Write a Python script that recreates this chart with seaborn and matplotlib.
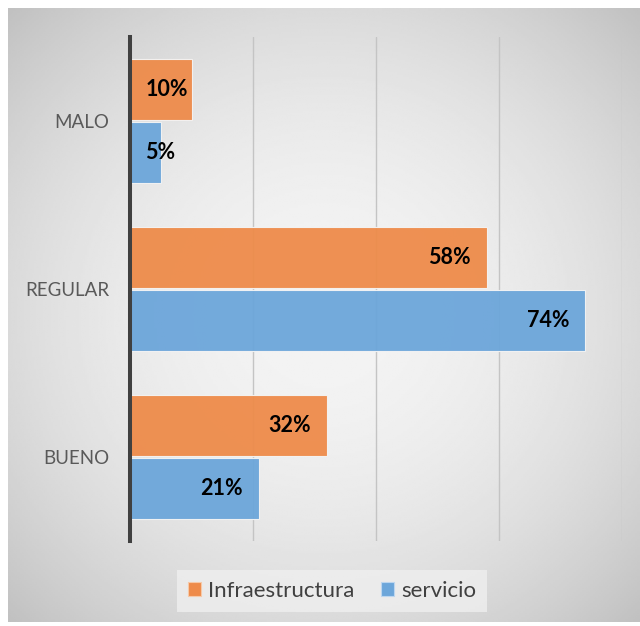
import numpy as np
import pandas as pd
import seaborn as sns
import matplotlib.pyplot as plt

categorias = ['MALO', 'REGULAR', 'BUENO']
infraestructura = [10, 58, 32]
servicio = [5, 74, 21]
series = ['Infraestructura', 'servicio']
colores = ['#EE8B4A', '#6CA6DA']

df = pd.DataFrame({
    'cat': categorias * 2,
    'serie': [series[0]] * 3 + [series[1]] * 3,
    'valor': infraestructura + servicio,
})

sns.set_theme(style='white')
plt.rcParams['font.family'] = ['Lato', 'DejaVu Sans']

W, H = 640, 626
fig = plt.figure(figsize=(W / 100, H / 100), dpi=100)
fig.patch.set_facecolor('white')

# fondo gris con degradado radial
bg = fig.add_axes([8 / W, 1 - 622 / H, 632 / W, 614 / H], zorder=-10)
yy, xx = np.mgrid[-1:1:300j, -1:1:300j]
r2 = (xx ** 2 + yy ** 2) / 2
bg.imshow(0.955 - 0.2 * r2, cmap='gray', vmin=0, vmax=1, aspect='auto',
          interpolation='bilinear')
bg.axis('off')

ax = fig.add_axes([130 / W, 1 - 541 / H, 492 / W, 504 / H])
ax.patch.set_alpha(0)
sns.barplot(data=df, y='cat', x='valor', hue='serie', orient='h',
            palette=colores, saturation=1, width=0.75, gap=0.03, alpha=0.95,
            edgecolor='#f4f4f4', linewidth=0.8, ax=ax, legend=False, zorder=3)

ax.set_xlim(0, 80)
ax.set_xticks([0, 20, 40, 60, 80])
ax.set_xticklabels([])
ax.grid(axis='x', color='#c4c4c4', linewidth=1, zorder=0)
ax.set_axisbelow(True)
ax.set_xlabel('')
ax.set_ylabel('')
for s in ['top', 'right', 'bottom']:
    ax.spines[s].set_visible(False)
ax.spines['left'].set_color('#404040')
ax.spines['left'].set_linewidth(2.9)
ax.spines['left'].set_zorder(5)
ax.tick_params(axis='y', length=0, pad=15, labelsize=13.5, labelcolor='#595959')
ax.tick_params(axis='x', length=0)

# etiquetas de datos (dentro del extremo, o al inicio si no caben)
fig.canvas.draw()
renderer = fig.canvas.get_renderer()
x0_px = ax.transData.transform((0, 0))[0]
for cont in ax.containers:
    for bar in cont:
        v = bar.get_width()
        yc = bar.get_y() + bar.get_height() / 2
        t = ax.annotate(f'{v:.0f}%', (v, yc), xytext=(-11.5, 0),
                        textcoords='offset points', ha='right', va='center',
                        fontsize=15.5, fontweight='bold', color='black',
                        zorder=6)
        if t.get_window_extent(renderer).x0 < x0_px + 16:
            t.remove()
            ax.annotate(f'{v:.0f}%', (0, yc), xytext=(11, 0),
                        textcoords='offset points', ha='left', va='center',
                        fontsize=15.5, fontweight='bold', color='black',
                        zorder=6)

handles = [plt.Rectangle((0, 0), 1, 1, facecolor=c, edgecolor='#f6c9a8' if i == 0 else '#bcd6ef',
                         linewidth=0.8) for i, c in enumerate(colores)]
leg = fig.legend(handles, series, loc='center', bbox_to_anchor=(332 / W, 1 - 591 / H),
                 ncol=2, fontsize=16, frameon=True, fancybox=False,
                 facecolor='#efefef', edgecolor='none', framealpha=0.8,
                 handlelength=0.6, handleheight=0.6, handletextpad=0.3,
                 columnspacing=1.2, borderpad=0.5, borderaxespad=0)
for txt in leg.get_texts():
    txt.set_color('#404040')

fig.savefig('out.png', dpi=100)
